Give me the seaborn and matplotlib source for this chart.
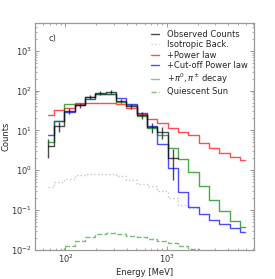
import numpy as np
import matplotlib
matplotlib.use("Agg")
import matplotlib.pyplot as plt
from matplotlib.lines import Line2D
import seaborn as sns

energy = [68, 86, 109, 138, 174, 220, 278, 352, 445, 562, 710, 897,
          1133, 1432, 1809, 2286, 2889, 3651, 4613, 5829]
observed = [4, 13, 31, 43, 69, 86, 92, 55, 41, 24, 12, 9, 2,
            np.nan, np.nan, np.nan, np.nan, np.nan, np.nan, np.nan]
isotropic = [0.38, 0.51, 0.60, 0.74, 0.80, 0.83, 0.82, 0.73, 0.58, 0.46,
             0.40, 0.30, 0.20, 0.137, 0.11,
             np.nan, np.nan, np.nan, np.nan, np.nan]
power_law = [24, 32, 37, 45, 48.5, 50, 50, 45, 36, 26, 19, 15.5, 11.5,
             9.0, 7.5, 4.95, 3.56, 2.77, 2.14, 1.77]
cutoff_pl = [7.7, 16.8, 28.8, 42.7, 62, 80, 84, 66, 45, 27, 13, 4.5, 1.16,
             0.29, 0.12, 0.080, 0.057, 0.045, 0.035, 0.028]
pion_decay = [5, 16.8, 47, 48, 69, 83, 80, 51.5, 42.6, 22.4, 11.6, 7.5, 3.7,
              1.9, 0.88, 0.40, 0.18, 0.093, 0.054, 0.037]
quiet_sun = [0.006, 0.008, 0.0129, 0.0172, 0.021, 0.0249, 0.0263, 0.0249,
             0.023, 0.0215, 0.019, 0.0168, 0.0147, 0.0126, 0.0105, 0.009,
             0.0075, 0.006, 0.005, 0.004]

labels = ["Observed Counts", "Isotropic Back.", "+Power law",
          "+Cut-off Power law", r"$+\pi^0,\pi^{\pm}$ decay", "Quiescent Sun"]

sns.set_style("ticks")
plt.rcParams['font.family'] = ['DejaVu Sans']

fig = plt.figure(figsize=(2.75, 2.79), dpi=100)
ax = fig.add_axes([0.127, 0.104, 0.797, 0.814])

lw = 1.0
ax.errorbar(energy, observed, yerr=np.sqrt(np.array(observed)),
            drawstyle='steps-mid', color='black', alpha=0.7, lw=lw,
            elinewidth=lw)
ax.plot(energy, isotropic, drawstyle='steps-mid', color='#c8c8c8', ls=':',
        lw=lw)
sns.lineplot(x=energy, y=power_law, drawstyle='steps-mid', color='red',
             alpha=0.7, lw=lw, ax=ax, estimator=None)
sns.lineplot(x=energy, y=cutoff_pl, drawstyle='steps-mid', color='blue',
             alpha=0.7, lw=lw, ax=ax, estimator=None)
sns.lineplot(x=energy, y=pion_decay, drawstyle='steps-mid', color='green',
             alpha=0.7, lw=lw, ax=ax, estimator=None)
sns.lineplot(x=energy, y=quiet_sun, drawstyle='steps-mid', color='#55b055',
             ls='--', alpha=0.8, lw=lw, ax=ax, estimator=None)

ax.set_xscale('log')
ax.set_yscale('log')
ax.set_xlim(50, 7200)
ax.set_ylim(0.01, 5000)
ax.set_xlabel('Energy [MeV]', fontsize=6, labelpad=2)
ax.set_ylabel('Counts', fontsize=6)
ax.yaxis.set_label_coords(-0.11, 0.5)
ax.tick_params(which='both', direction='in', top=True, right=True,
               labelsize=6, colors='#333333', pad=2)
ax.tick_params(which='major', length=3, width=0.6, color='#888888')
ax.tick_params(which='minor', length=1.5, width=0.5, color='#888888')
for s in ax.spines.values():
    s.set_color('#999999')
    s.set_linewidth(0.9)

ax.text(0.06, 0.93, 'c)', transform=ax.transAxes, fontsize=6,
        ha='left', va='center', color='#333333')

handles = [
    Line2D([], [], color='black', alpha=0.7, lw=lw),
    Line2D([], [], color='#c8c8c8', ls=':', lw=lw),
    Line2D([], [], color='red', alpha=0.7, lw=lw),
    Line2D([], [], color='blue', alpha=0.7, lw=lw),
    Line2D([], [], color='green', alpha=0.45, lw=lw),
    Line2D([], [], color='#55b055', ls='--', alpha=0.8, lw=lw),
]
ax.legend(handles, labels, loc='upper right', frameon=False, fontsize=6,
          handlelength=1.0, handletextpad=0.9, labelspacing=0.18,
          borderaxespad=0.4)

fig.savefig('out.png', dpi=100)
